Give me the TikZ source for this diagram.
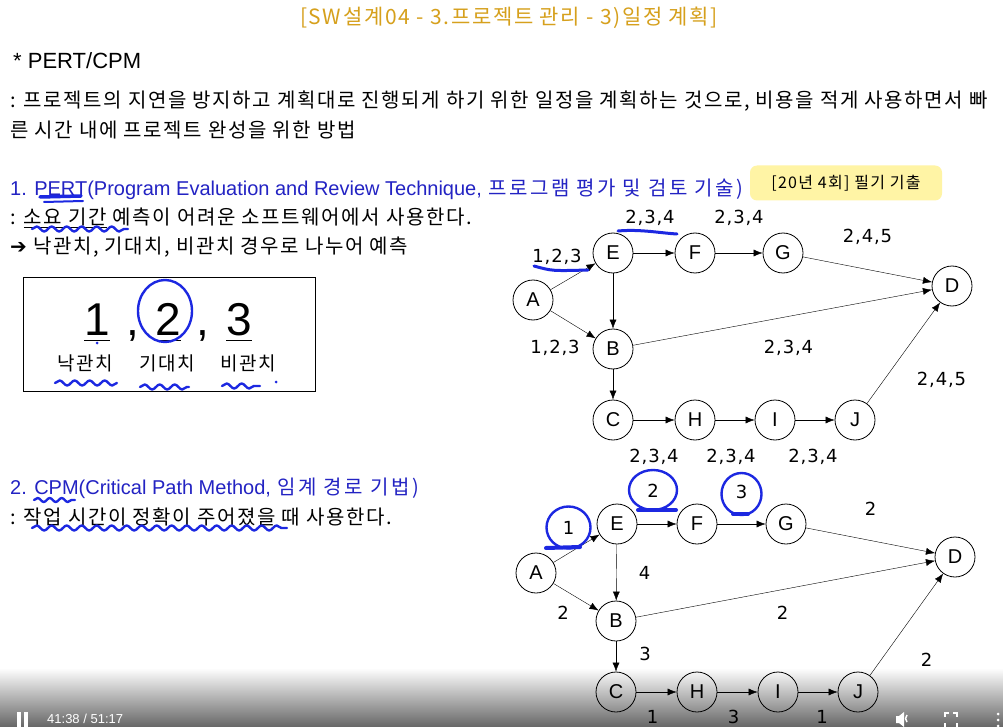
\documentclass[tikz,border=0pt]{standalone}
\usepackage{fontspec}
\setmainfont{Noto Sans CJK KR}[LetterSpace=8]
\newfontfamily\latf{Liberation Sans}
\newfontfamily\numf{DejaVu Sans}[LetterSpace=5]
\newfontfamily\widekr{Noto Sans CJK KR}[LetterSpace=13]
\usetikzlibrary{arrows.meta,positioning,decorations.pathmorphing,calc}
\definecolor{titlegold}{RGB}{214,160,28}
\definecolor{headblue}{RGB}{35,35,195}
\definecolor{penblue}{RGB}{28,40,225}
\definecolor{noteyellow}{RGB}{255,244,165}

\begin{document}
\begin{tikzpicture}[x=1pt,y=-1pt,>={Latex[length=9pt,width=7pt]},
   ev/.style={circle,draw,line width=0.8pt,minimum size=40pt,inner sep=0pt,font=\latf\fontsize{20}{20}\selectfont},
   wt/.style={midway,font=\numf\fontsize{18}{18}\selectfont,inner sep=0pt},
   body/.style={anchor=west,inner sep=0pt,font=\fontsize{20}{24}\selectfont},
   head/.style={body,text=headblue},
   dig/.style={anchor=base,inner sep=0pt,font=\latf\fontsize{46}{46}\selectfont},
   pen/.style={penblue,line width=2.4pt,line cap=round,line join=round},
   wavy/.style={pen,decorate,decoration={snake,segment length=15pt,amplitude=2.5pt}}]
  \useasboundingbox (0,0) rectangle (1003,727);
  \fill[white] (0,0) rectangle (1003,727);
  \shade[top color=white,bottom color=black!60] (0,668) rectangle (1003,727);

  \node[font=\fontsize{21}{24}\selectfont,text=titlegold] (title) at (509,18) {[SW설계04 - 3.프로젝트 관리 - 3)일정 계획]};
  \node[body,font=\latf\fontsize{22}{24}\selectfont] (pc) at (13,61) {* PERT/CPM};
  \node[body] (ln1) at (10,101) {: 프로젝트의 지연을 방지하고 계획대로 진행되게 하기 위한 일정을 계획하는 것으로, 비용을 적게 사용하면서 빠};
  \node[body] (ln2) at (10,130) {른 시간 내에 프로젝트 완성을 위한 방법};

  \node[head] (h1) at (10,189) {{\latf 1. PERT(Program Evaluation and Review Technique,} {\widekr 프로그램 평가 및 검토 기술)}};
  \node[fill=noteyellow,rounded corners=7pt,minimum width=192pt,minimum height=35pt,font=\fontsize{16}{16}\selectfont] (exam) at (846,183) {[20년 4회] 필기 기출};
  \node[body] (p1) at (10,218) {: \underline{소요 기간} 예측이 어려운 소프트웨어에서 사용한다.};
  \node[body] (p2) at (10,247) {{\numf ➔} 낙관치, 기대치, 비관치 경우로 나누어 예측};

  \node[draw,line width=0.8pt,minimum width=292pt,minimum height=114pt,inner sep=0pt] (vbox) at (169,334) {};
  \node[dig] (d1) at (97,335) {1};
  \node[dig] (k1) at (133,335) {,};
  \node[dig] (d2) at (168,335) {2};
  \node[dig] (k2) at (203,335) {,};
  \node[dig] (d3) at (239,335) {3};
  \foreach \d in {d1,d2,d3}
    \draw[line width=1pt] ([xshift=-13pt,yshift=-5pt]\d.base) -- ([xshift=13pt,yshift=-5pt]\d.base);
  \node[font=\fontsize{19}{19}\selectfont] (lo) at (85,363) {낙관치};
  \node[font=\fontsize{19}{19}\selectfont] (le) at (167,363) {기대치};
  \node[font=\fontsize{19}{19}\selectfont] (lp) at (248,363) {비관치};

  \node[ev] (pA) at (533,300) {A};
  \node[ev] (pE) at (613,253) {E};
  \node[ev] (pF) at (695,253) {F};
  \node[ev] (pG) at (783,253) {G};
  \node[ev] (pD) at (952,286) {D};
  \node[ev] (pB) at (613,349) {B};
  \node[ev] (pC) at (613,420) {C};
  \node[ev] (pH) at (695,420) {H};
  \node[ev] (pI) at (775,420) {I};
  \node[ev] (pJ) at (855,420) {J};
  \draw[->] (pA)--(pE) node[wt,shift={(-16,-20)}]{1,2,3};
  \draw[->] (pA)--(pB) node[wt,shift={(-18,23)}]{1,2,3};
  \draw[->] (pE)--(pF) node[wt,shift={(-4,-35)}]{2,3,4};
  \draw[->] (pF)--(pG) node[wt,shift={(0,-35)}]{2,3,4};
  \draw[->] (pG)--(pD) node[wt,shift={(0,-33)}]{2,4,5};
  \draw[->] (pE)--(pB);
  \draw[->] (pB)--(pD) node[wt,shift={(6,30)}]{2,3,4};
  \draw[->] (pB)--(pC);
  \draw[->] (pC)--(pH) node[wt,shift={(0,37)}]{2,3,4};
  \draw[->] (pH)--(pI) node[wt,shift={(-4,37)}]{2,3,4};
  \draw[->] (pI)--(pJ) node[wt,shift={(-2,37)}]{2,3,4};
  \draw[->] (pJ)--(pD) node[wt,shift={(38,27)}]{2,4,5};

  \node[head] (h2) at (10,488) {{\latf 2. CPM(Critical Path Method,} {\widekr 임계 경로 기법)}};
  \node[body] (p3) at (10,517) {: 작업 시간이 정확이 주어졌을 때 사용한다.};

  \node[ev] (cA) at (536,573) {A};
  \node[ev] (cE) at (617,524) {E};
  \node[ev] (cF) at (697,524) {F};
  \node[ev] (cG) at (786,524) {G};
  \node[ev] (cD) at (955,557) {D};
  \node[ev] (cB) at (616,621) {B};
  \node[ev] (cC) at (616,692) {C};
  \node[ev] (cH) at (697,692) {H};
  \node[ev] (cI) at (778,692) {I};
  \node[ev] (cJ) at (858,692) {J};
  \draw[->] (cA)--(cE) node[wt,shift={(-8,-21)}] (cw1) {1};
  \draw[->] (cA)--(cB) node[wt,shift={(-13,16)}]{2};
  \draw[->] (cE)--(cF) node[wt,shift={(-4,-33)}] (cw2) {2};
  \draw[->] (cF)--(cG) node[wt,shift={(0,-32)}] (cw3) {3};
  \draw[->] (cG)--(cD) node[wt,shift={(0,-32)}]{2};
  \draw[->] (cE)--(cB) node[wt,shift={(28,0)}]{4};
  \draw[->] (cB)--(cD) node[wt,shift={(-3,24)}]{2};
  \draw[->] (cB)--(cC) node[wt,shift={(29,-3)}]{3};
  \draw[->] (cC)--(cH) node[wt,shift={(-4,25)}]{1};
  \draw[->] (cH)--(cI) node[wt,shift={(-4,25)}]{3};
  \draw[->] (cI)--(cJ) node[wt,shift={(4,25)}]{1};
  \draw[->] (cJ)--(cD) node[wt,shift={(20,35)}]{2};

  \draw[pen,line width=3.5pt] (40,197) -- (81,196);
  \draw[pen,line width=2pt] (44,202) -- (83,201);
  \draw[wavy] (32,229) -- (128,229);
  \draw[pen,line width=3pt] (618,231) .. controls (640,229) and (660,233) .. (677,234);
  \draw[pen,line width=3pt] (534,266) .. controls (552,271) .. (588,270);
  \draw[pen] (165,311) ellipse [x radius=27pt,y radius=31pt];
  \fill[penblue] (97,343) circle (1.5pt);
  \fill[penblue] (276,382) circle (1.5pt);
  \draw[wavy] (55,383) -- (117,383);
  \draw[wavy] (140,387) -- (189,387);
  \draw[wavy] (222,386) -- (260,386);
  \draw[wavy,decoration={segment length=12pt,amplitude=2pt}] (34,500) -- (75,500);
  \draw[wavy] (32,528) -- (287,528);
  \draw[pen] (cw1) ellipse [x radius=22pt,y radius=21pt];
  \draw[pen,line width=4pt] (546,548) -- (580,547);
  \draw[pen] ([yshift=1pt]cw2.center) ellipse [x radius=24pt,y radius=20pt];
  \draw[pen,line width=4pt] (638,510) -- (676,510);
  \draw[pen] ([yshift=-2pt]cw3.center) ellipse [x radius=20pt,y radius=21pt];
  \draw[pen,line width=4pt] (733,514) -- (748,514);

  \fill[white] (17,712) rectangle (20.5,727);
  \fill[white] (24,712) rectangle (27.5,727);
  \node[font=\latf\fontsize{13}{13}\selectfont,text=white,anchor=west,inner sep=0pt] (clock) at (47,719) {41:38 / 51:17};
  \fill[white] (896,716) -- (899,716) -- (904,712) -- (904,727) -- (899,723) -- (896,723) -- cycle;
  \draw[white,line width=1.5pt] (907,715) arc[start angle=-45,end angle=45,radius=-5pt];
  \draw[white,line width=2pt] (945,717) -- (945,713) -- (949,713);
  \draw[white,line width=2pt] (953,713) -- (957,713) -- (957,717);
  \draw[white,line width=2pt] (945,723) -- (945,727);
  \draw[white,line width=2pt] (957,723) -- (957,727);
  \foreach \y in {714,720,726}
    \fill[white] (998,\y) circle (1.5pt);
\end{tikzpicture}
\end{document}
